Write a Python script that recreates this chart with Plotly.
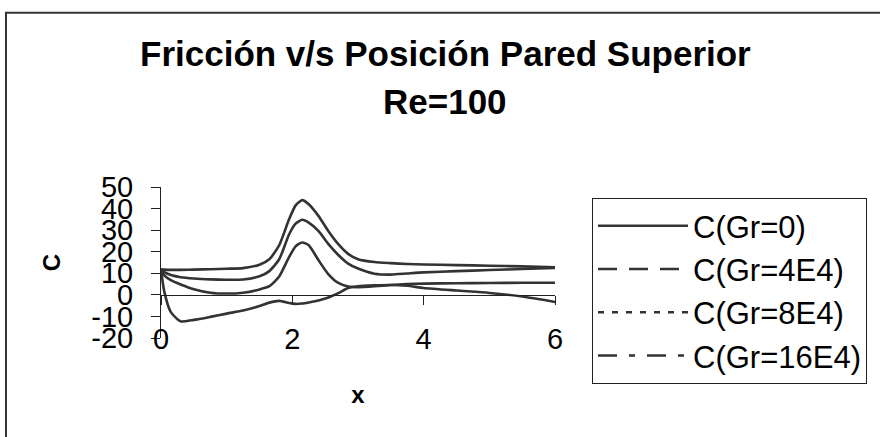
import plotly.graph_objects as go

# ---- data ----
x_pos = [0, 0.05, 0.15, 0.3, 0.5, 0.75, 1.0, 1.25, 1.5, 1.65, 1.8, 1.95, 2.05, 2.15,
         2.25, 2.4, 2.55, 2.7, 2.85, 3.0, 3.25, 3.5, 3.75, 4.0, 4.5, 5.0, 5.5, 6.0]

c_gr0 = [11.8, 11.7, 11.6, 11.6, 11.7, 11.9, 12.1, 12.4, 14.0, 16.5, 23.0, 35.0, 41.5, 43.9,
         42.0, 36.5, 29.5, 23.5, 19.0, 16.5, 15.2, 14.7, 14.3, 14.1, 13.8, 13.5, 13.2, 12.8]
c_gr4e4 = [11.8, 10.5, 9.2, 8.2, 7.6, 7.2, 7.0, 7.1, 8.6, 11.0, 16.5, 28.0, 33.0, 34.8,
           33.5, 29.5, 23.5, 18.5, 14.5, 12.2, 9.8, 9.4, 9.9, 10.4, 11.0, 11.5, 12.0, 12.5]
c_gr8e4 = [11.8, 9.0, 6.8, 4.8, 2.6, 1.0, 0.6, 1.0, 2.5, 4.0, 8.5, 17.5, 22.5, 24.3,
           23.0, 16.0, 9.5, 5.5, 3.9, 3.6, 4.0, 4.6, 5.0, 5.2, 5.4, 5.5, 5.6, 5.6]
c_gr16e4 = [11.8, 1.5, -8.0, -12.3, -11.6, -10.2, -8.7, -7.3, -5.2, -3.6, -2.8, -3.8, -4.2, -4.0,
            -3.5, -2.6, -1.2, 0.8, 3.2, 4.0, 4.4, 4.6, 4.2, 3.2, 2.0, 0.9, -0.8, -3.3]

series_names = ["C(Gr=0)", "C(Gr=4E4)", "C(Gr=8E4)", "C(Gr=16E4)"]
series_values = [c_gr0, c_gr4e4, c_gr8e4, c_gr16e4]
legend_dashes = ["solid", "19px,12px", "6px,8px", "19px,12px,6px,12px"]

x_ticks = [0, 2, 4, 6]
y_ticks = [-20, -10, 0, 10, 20, 30, 40, 50]

title_line1 = "Fricción v/s Posición Pared Superior"
title_line2 = "Re=100"

# ---- geometry (pixels) ----
W, H = 880, 437
L, R, T, B = 161, 555, 187, 338
pw, ph = R - L, B - T

def px_x(p):
    return (p - L) / pw

def px_y(p):
    return (B - p) / ph

LINE_COL = "#333333"
FONT = "Liberation Sans, Arial, sans-serif"

fig = go.Figure()

for name, vals in zip(series_names, series_values):
    fig.add_trace(go.Scatter(
        x=x_pos, y=vals, mode="lines", name=name, showlegend=False,
        line=dict(color=LINE_COL, width=2.6, shape="spline", smoothing=0.6),
        xaxis="x", yaxis="y"))

for name, dash in zip(series_names, legend_dashes):
    fig.add_trace(go.Scatter(
        x=[None], y=[None], mode="lines", name=name, showlegend=True,
        line=dict(color=LINE_COL, width=2.5, dash=dash), legendgroup=name))

zero_pos = (0 - y_ticks[0]) / (y_ticks[-1] - y_ticks[0])

fig.update_layout(
    width=W, height=H,
    margin=dict(l=L, r=W - R, t=T, b=H - B, pad=0),
    paper_bgcolor="white", plot_bgcolor="white",
    font=dict(family=FONT, color="black"),
    showlegend=True,
    legend=dict(
        xref="container", yref="container",
        x=592 / W, y=1 - 198 / H, xanchor="left", yanchor="top",
        bordercolor="#222222", borderwidth=1, bgcolor="white",
        font=dict(size=31, family=FONT, color="black"),
        itemwidth=90, tracegroupgap=0,
    ),
    xaxis=dict(
        range=[0, 6], anchor="free", position=zero_pos,
        showline=True, linecolor="#222222", linewidth=1,
        ticks="outside", ticklen=9, tickcolor="#222222",
        tickvals=x_ticks, showticklabels=False,
        showgrid=False, zeroline=False,
    ),
    xaxis2=dict(
        overlaying="x", matches="x", anchor="free", position=px_y(319),
        showline=False, ticks="", tickvals=x_ticks,
        ticktext=[str(v) for v in x_ticks],
        tickfont=dict(size=29, family=FONT, color="black"),
        showgrid=False, zeroline=False,
        title=dict(text="<b>x</b>", font=dict(size=24, family=FONT, color="black"),
                   standoff=32),
    ),
    yaxis=dict(
        range=[-20, 50], anchor="x",
        showline=True, linecolor="#222222", linewidth=1,
        ticks="outside", ticklen=9, tickcolor="#222222",
        tickvals=y_ticks, ticktext=[str(v) for v in y_ticks],
        tickfont=dict(size=29, family=FONT, color="black"),
        ticklabelstandoff=12,
        showgrid=False, zeroline=False,
        title=dict(text="<b>C</b>", font=dict(size=24, family=FONT, color="black"),
                   standoff=23),
    ),
    annotations=[
        dict(text="<b>" + title_line1 + "</b>", xref="paper", yref="paper",
             x=px_x(445), y=px_y(53), xanchor="center", yanchor="middle",
             showarrow=False, font=dict(size=35, family=FONT, color="black")),
        dict(text="<b>" + title_line2 + "</b>", xref="paper", yref="paper",
             x=px_x(445), y=px_y(101), xanchor="center", yanchor="middle",
             showarrow=False, font=dict(size=35, family=FONT, color="black")),
    ],
    shapes=[
        dict(type="rect", xref="paper", yref="paper",
             x0=px_x(6), x1=px_x(886), y0=px_y(445), y1=px_y(12.7),
             line=dict(color="#333333", width=2), layer="below"),
    ],
)

# dummy trace on xaxis2 so it renders
fig.add_trace(go.Scatter(x=[None], y=[None], xaxis="x2", yaxis="y",
                         showlegend=False, hoverinfo="skip"))

fig.write_html("out.html", config={"displayModeBar": False},
               post_script="document.body.style.margin='0';document.body.style.overflow='hidden';")
